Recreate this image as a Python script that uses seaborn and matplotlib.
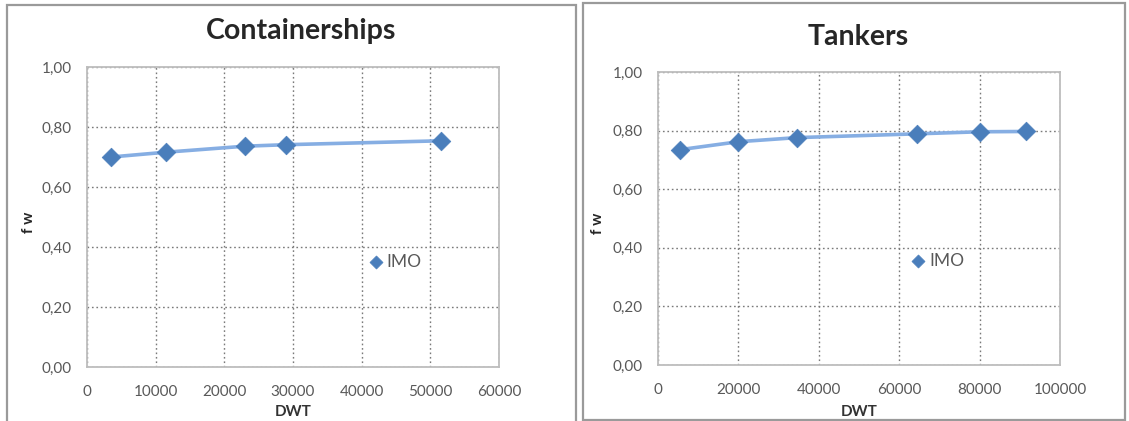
import numpy as np
import pandas as pd
import seaborn as sns
import matplotlib
matplotlib.use("Agg")
import matplotlib.pyplot as plt
from matplotlib.patches import Rectangle

# data
cont_dwt = [3500, 11500, 23000, 29000, 51500]
cont_fw = [0.700, 0.716, 0.736, 0.741, 0.754]
tank_dwt = [5500, 20000, 34500, 64500, 80000, 91500]
tank_fw = [0.735, 0.762, 0.776, 0.789, 0.796, 0.797]
titles = ["Containerships", "Tankers"]
x_max = [60000, 100000]
x_step = [10000, 20000]
y_ticks = [0.0, 0.2, 0.4, 0.6, 0.8, 1.0]
series_name = "IMO"

sns.set_style("white")
plt.rcParams['font.family'] = ['Lato', 'DejaVu Sans']

W, H = 1129, 421
fig = plt.figure(figsize=(W / 100, H / 100), dpi=100)

def fx(px):
    return px / W

def fy(py):
    return 1 - py / H

# panel frames
for x0, y0, x1, y1 in [(7, 5, 576, 423), (583, 3, 1125, 420)]:
    fig.patches.append(Rectangle((fx(x0), fy(y1)), fx(x1 - x0), (y1 - y0) / H,
                                 transform=fig.transFigure, fill=False,
                                 edgecolor="#9a9a9a", linewidth=1.6))

# axes boxes in pixel coords: left, top, right, bottom
boxes = [(87, 67, 499, 367), (658, 72, 1060, 365)]
title_pos = [(301, 31), (858, 37)]
ylab_x = [29, 598]
leg_pos = [(0.688, 0.35), (0.635, 0.355)]
frames = [pd.DataFrame({"DWT": cont_dwt, "fw": cont_fw}),
          pd.DataFrame({"DWT": tank_dwt, "fw": tank_fw})]

for i, df in enumerate(frames):
    l, t, r, b = boxes[i]
    ax = fig.add_axes([fx(l), fy(b), fx(r - l), (b - t) / H])
    sns.lineplot(data=df, x="DWT", y="fw", ax=ax, color="#86aee3",
                 linewidth=2.6, zorder=3)
    sns.scatterplot(data=df, x="DWT", y="fw", ax=ax, marker="D", s=90,
                    color="#4a7ebb", edgecolor="#4a7ebb", linewidth=0.5,
                    label=series_name, zorder=4)
    ax.set_xlim(0, x_max[i])
    ax.set_ylim(0, 1)
    ax.set_xticks(np.arange(0, x_max[i] + 1, x_step[i]))
    ax.set_yticks(y_ticks)
    ax.set_yticklabels([f"{v:.2f}".replace(".", ",") for v in y_ticks])
    ax.grid(True, linestyle=(0, (1.2, 2)), color="#7a7a7a", linewidth=1.0)
    ax.set_axisbelow(True)
    for s in ax.spines.values():
        s.set_color("#bdbdbd")
        s.set_linewidth(1.3)
        s.set_visible(True)
    ax.tick_params(axis="both", direction="out", length=5, width=1.2,
                   color="#bdbdbd", labelcolor="#595959", labelsize=11)
    ax.tick_params(axis="x", pad=8)
    ax.tick_params(axis="y", pad=6)
    ax.set_xlabel("")
    ax.set_ylabel("")
    fig.text(fx(title_pos[i][0]), fy(title_pos[i][1]), titles[i],
             ha="center", va="center", fontsize=20.5, fontweight="bold")
    fig.text(fx(ylab_x[i]), fy((t + b) / 2 + 5), "f w", rotation=90,
             ha="center", va="center", fontsize=11, fontweight="bold")
    fig.text(fx((l + r) / 2), fy(412), "DWT", ha="center", va="center",
             fontsize=11, fontweight="bold", color="#333333")
    leg = ax.legend(loc="center left", bbox_to_anchor=leg_pos[i], frameon=False,
                    handlelength=0.6, handletextpad=0.3, borderpad=0,
                    borderaxespad=0, fontsize=12.5, markerscale=0.7)
    for txt in leg.get_texts():
        txt.set_color("#595959")

fig.savefig("out.png", dpi=100)
